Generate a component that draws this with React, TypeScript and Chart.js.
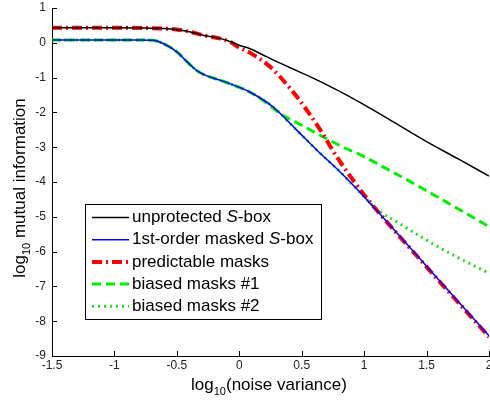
import React, { useEffect, useRef } from 'react';
import { Chart, registerables } from 'chart.js';

Chart.register(...registerables);

// ---------------- data ----------------
const seriesNames = [
  'unprotected S-box',
  '1st-order masked S-box',
  'predictable masks',
  'biased masks #1',
  'biased masks #2',
];

const xTickMin = -1.5;
const xTickMax = 2;
const xTickStep = 0.5;
const yTickMin = -9;
const yTickMax = 1;
const yTickStep = 1;

const unprotectedX = [-1.5, -1.0, -0.7, -0.55, -0.4, -0.29, -0.15, -0.07, 0.0, 0.087, 0.19, 0.3, 0.46, 0.6, 0.73, 0.85, 0.97, 1.2, 1.5, 1.75, 2.0];
const unprotectedY = [0.43, 0.43, 0.42, 0.40, 0.32, 0.22, 0.12, 0.03, -0.07, -0.17, -0.35, -0.54, -0.80, -1.03, -1.26, -1.48, -1.72, -2.20, -2.84, -3.33, -3.83];

const maskedX = [-1.5, -1.0, -0.8, -0.69, -0.61, -0.5, -0.42, -0.34, -0.26, -0.15, -0.05, 0.087, 0.27, 0.46, 0.62, 0.81, 1.02, 1.5, 2.0];
const maskedY = [0.08, 0.08, 0.08, 0.07, -0.02, -0.26, -0.54, -0.80, -0.95, -1.08, -1.21, -1.42, -1.84, -2.51, -3.08, -3.72, -4.50, -6.42, -8.42];

const predictableX = [-1.5, -1.0, -0.55, -0.4, -0.29, -0.15, -0.07, 0.0, 0.087, 0.247, 0.407, 0.54, 0.65, 0.78, 0.91, 1.02, 1.5, 2.0];
const predictableY = [0.43, 0.43, 0.40, 0.32, 0.22, 0.12, 0.02, -0.14, -0.29, -0.69, -1.31, -1.93, -2.51, -3.27, -3.94, -4.46, -6.44, -8.45];

const biased1X = [-1.5, -1.0, -0.8, -0.69, -0.61, -0.5, -0.42, -0.34, -0.26, -0.15, -0.05, 0.087, 0.2, 0.327, 0.5, 0.67, 0.85, 0.97, 1.2, 1.37, 1.67, 2.0];
const biased1Y = [0.08, 0.08, 0.08, 0.07, -0.02, -0.26, -0.54, -0.80, -0.95, -1.08, -1.21, -1.42, -1.68, -2.03, -2.37, -2.70, -3.03, -3.22, -3.66, -3.99, -4.60, -5.28];

const biased2X = [-1.5, -1.0, -0.8, -0.69, -0.61, -0.5, -0.42, -0.34, -0.26, -0.15, -0.05, 0.087, 0.27, 0.46, 0.62, 0.81, 1.02, 1.1, 1.25, 1.5, 1.75, 2.0];
const biased2Y = [0.08, 0.08, 0.08, 0.07, -0.02, -0.26, -0.54, -0.80, -0.95, -1.08, -1.21, -1.42, -1.84, -2.51, -3.08, -3.72, -4.50, -4.78, -5.12, -5.67, -6.17, -6.62];

// ---------------- styles ----------------
const FONT = '"Liberation Sans", Arial, Helvetica, sans-serif';

const styles = [
  { color: '#000000', width: 1.5, dash: [] as number[] },
  { color: '#0000ff', width: 1.5, dash: [] as number[] },
  { color: '#ff0000', width: 4, dash: [10, 4, 2, 4] },
  { color: '#00ee00', width: 3, dash: [9, 5] },
  { color: '#22dd22', width: 3, dash: [2, 4] },
];

const toPoints = (xs: number[], ys: number[]) => xs.map((x, i) => ({ x, y: ys[i] }));

const overlayPlugin = {
  id: 'overlay',
  afterDraw(chart: any) {
    const ctx: CanvasRenderingContext2D = chart.ctx;
    const { left, bottom } = chart.chartArea;
    const xs = chart.scales.x;
    const ys = chart.scales.y;
    ctx.save();

    // inward tick marks
    ctx.strokeStyle = '#000';
    ctx.lineWidth = 1;
    ctx.setLineDash([]);
    ctx.beginPath();
    xs.ticks.forEach((t: any) => {
      const px = Math.round(xs.getPixelForValue(t.value)) + 0.5;
      ctx.moveTo(px, bottom);
      ctx.lineTo(px, bottom - 5);
    });
    ys.ticks.forEach((t: any) => {
      const py = Math.round(ys.getPixelForValue(t.value)) + 0.5;
      ctx.moveTo(left, py);
      ctx.lineTo(left + 5, py);
    });
    ctx.stroke();

    // legend
    const lx = 85.5, ly = 204.5, lw = 236, lh = 115;
    ctx.fillStyle = '#ffffff';
    ctx.fillRect(lx, ly, lw, lh);
    ctx.strokeStyle = '#000';
    ctx.lineWidth = 1;
    ctx.strokeRect(lx, ly, lw, lh);
    ctx.textBaseline = 'middle';
    ctx.textAlign = 'left';
    seriesNames.forEach((name, i) => {
      const y = 217.5 + i * 22.2;
      const st = styles[i];
      ctx.strokeStyle = st.color;
      ctx.lineWidth = st.width;
      ctx.setLineDash(st.dash);
      ctx.beginPath();
      ctx.moveTo(92, y);
      ctx.lineTo(129, y);
      ctx.stroke();
      ctx.setLineDash([]);
      ctx.fillStyle = '#000';
      let x = 132;
      const parts: [string, boolean][] = [];
      const idx = name.indexOf('S-box');
      if (idx >= 0) {
        parts.push([name.slice(0, idx), false]);
        parts.push(['S', true]);
        parts.push([name.slice(idx + 1), false]);
      } else {
        parts.push([name, false]);
      }
      parts.forEach(([txt, it]) => {
        ctx.font = `${it ? 'italic ' : ''}17px ${FONT}`;
        ctx.fillText(txt, x, y);
        x += ctx.measureText(txt).width;
      });
    });

    // axis titles with subscripts
    const drawSubTitle = (pre: string, sub: string, post: string) => {
      ctx.font = `17px ${FONT}`;
      const w1 = ctx.measureText(pre).width;
      const w3 = ctx.measureText(post).width;
      ctx.font = `11px ${FONT}`;
      const w2 = ctx.measureText(sub).width;
      const total = w1 + w2 + w3;
      let x = -total / 2;
      ctx.textBaseline = 'alphabetic';
      ctx.fillStyle = '#000';
      ctx.font = `17px ${FONT}`;
      ctx.fillText(pre, x, 0);
      x += w1;
      ctx.font = `11px ${FONT}`;
      ctx.fillText(sub, x, 5);
      x += w2;
      ctx.font = `17px ${FONT}`;
      ctx.fillText(post, x, 0);
    };

    ctx.save();
    ctx.translate(269, 390);
    drawSubTitle('log', '10', '(noise variance)');
    ctx.restore();

    ctx.save();
    ctx.translate(25, 188);
    ctx.rotate(-Math.PI / 2);
    drawSubTitle('log', '10', ' mutual information');
    ctx.restore();

    ctx.restore();
  },
};

export default function App() {
  const canvasRef = useRef<HTMLCanvasElement | null>(null);

  useEffect(() => {
    if (!canvasRef.current) return;
    Chart.defaults.font.family = FONT;
    const seriesX = [unprotectedX, maskedX, predictableX, biased1X, biased2X];
    const seriesY = [unprotectedY, maskedY, predictableY, biased1Y, biased2Y];
    const chart = new Chart(canvasRef.current, {
      type: 'line',
      data: {
        datasets: seriesNames.map((name, i) => ({
          label: name,
          data: toPoints(seriesX[i], seriesY[i]),
          borderColor: styles[i].color,
          backgroundColor: styles[i].color,
          borderWidth: styles[i].width,
          borderDash: styles[i].dash,
          pointRadius: 0,
          fill: false,
          cubicInterpolationMode: 'monotone' as const,
        })),
      },
      options: {
        responsive: false,
        animation: false,
        devicePixelRatio: 1,
        layout: { padding: { top: 8, right: 1, bottom: 0, left: 0 } },
        plugins: {
          legend: { display: false },
          tooltip: { enabled: false },
          title: { display: false },
        },
        scales: {
          x: {
            type: 'linear',
            min: xTickMin,
            max: xTickMax,
            ticks: {
              stepSize: xTickStep,
              color: '#222',
              font: { size: 12, family: FONT },
              padding: 2,
              maxRotation: 0,
              autoSkip: false,
              callback: (v: any) => `${Number(v)}`,
            },
            grid: { display: false, drawTicks: false },
            border: { display: true, color: '#000', width: 1 },
            afterFit: (s: any) => {
              s.height = 45;
              s.paddingLeft = 0;
              s.paddingRight = 0;
            },
          },
          y: {
            type: 'linear',
            min: yTickMin,
            max: yTickMax,
            ticks: {
              stepSize: yTickStep,
              color: '#222',
              font: { size: 12, family: FONT },
              padding: 6,
              autoSkip: false,
              callback: (v: any) => `${Number(v)}`,
            },
            grid: { display: false, drawTicks: false },
            border: { display: true, color: '#000', width: 1 },
            afterFit: (s: any) => {
              s.width = 52;
              s.paddingTop = 0;
              s.paddingBottom = 0;
            },
          },
        },
      } as any,
      plugins: [overlayPlugin],
    });
    return () => chart.destroy();
  }, []);

  return (
    <div style={{ position: 'absolute', left: 0, top: 0, width: 490, height: 401, background: '#fff' }}>
      <canvas ref={canvasRef} width={490} height={401} style={{ display: 'block' }} />
    </div>
  );
}
